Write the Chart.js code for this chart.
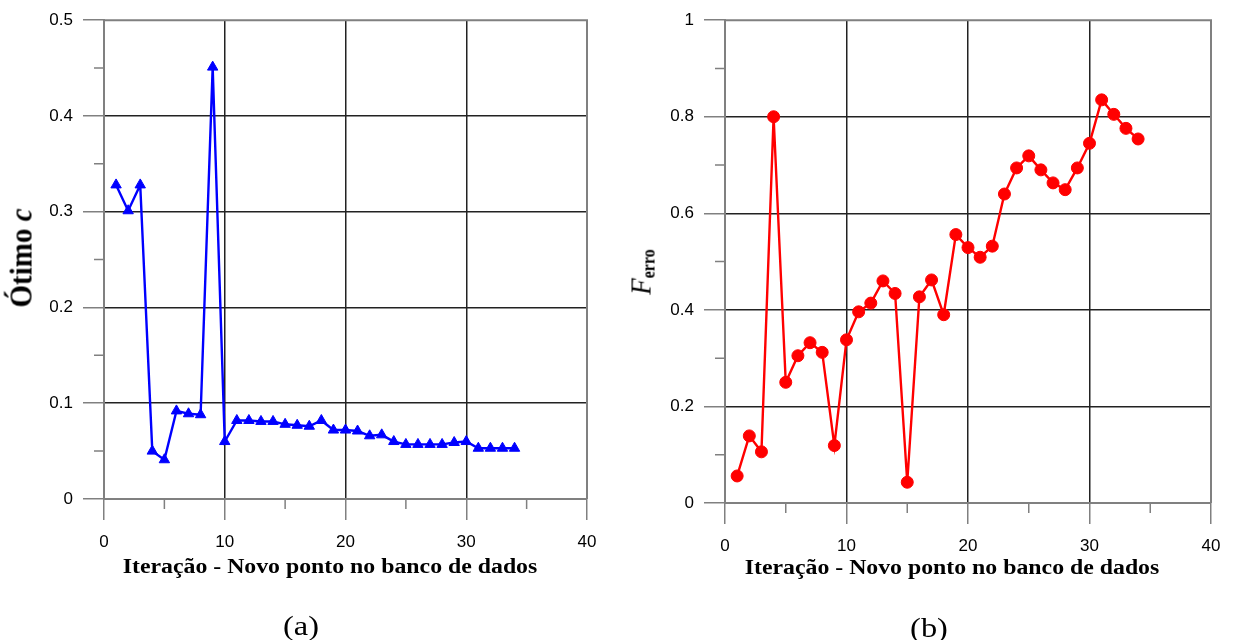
<!DOCTYPE html>
<html>
<head>
<meta charset="utf-8">
<script src="https://cdn.jsdelivr.net/npm/chart.js@4/dist/chart.umd.min.js"></script>
<style>
  html, body { margin: 0; padding: 0; background: #fff; }
  #page { position: relative; width: 1233px; height: 640px; overflow: hidden; background: #fff; }
  .panel { position: absolute; top: 0; height: 640px; }
  .txt { position: absolute; white-space: nowrap; line-height: 1; color: #000;
         font-family: "Liberation Serif", "Times New Roman", serif; }
  .xt { font-weight: bold; font-size: 20px; transform: translate(-50%, -50%) scaleX(1.19); }
  .yt { transform: translate(-50%, -50%) rotate(-90deg) scaleY(1.12); }
  .cap { font-size: 27px; transform: translate(-50%, -50%) scaleX(1.2); }
  sub { font-size: 16px; font-weight: bold; vertical-align: -4px; }
</style>
</head>
<body>
<div id="page">
  <div class="panel" style="left:0;width:610px;"><canvas id="chartA"></canvas></div>
  <div class="panel" style="left:610px;width:623px;"><canvas id="chartB"></canvas></div>

  <div class="txt yt" style="left:21px;top:258px;font-size:29px;font-weight:bold;">Ótimo <i>c</i></div>
  <div class="txt yt" style="left:642px;top:272px;font-size:27px;"><i>F</i><sub>erro</sub></div>

  <div class="txt xt" style="left:330px;top:566px;">Iteração - Novo ponto no banco de dados</div>
  <div class="txt xt" style="left:952px;top:567px;">Iteração - Novo ponto no banco de dados</div>

  <div class="txt cap" style="left:301px;top:626px;">(a)</div>
  <div class="txt cap" style="left:929px;top:628px;">(b)</div>
</div>

<script>
// Iteration number (new point added to the database)
const iterations = [1, 2, 3, 4, 5, 6, 7, 8, 9, 10, 11, 12, 13, 14, 15, 16, 17,
                    18, 19, 20, 21, 22, 23, 24, 25, 26, 27, 28, 29, 30, 31, 32, 33, 34];

// (a) optimal c per iteration
const otimoC = [0.328, 0.301, 0.328, 0.050, 0.041, 0.092, 0.089, 0.088, 0.451, 0.060,
                0.082, 0.082, 0.081, 0.081, 0.078, 0.077, 0.076, 0.082, 0.072, 0.072,
                0.071, 0.066, 0.067, 0.060, 0.057, 0.057, 0.057, 0.057, 0.059, 0.060,
                0.053, 0.053, 0.053, 0.053];

// (b) F_erro per iteration
const fErro = [0.056, 0.139, 0.106, 0.800, 0.250, 0.305, 0.332, 0.312, 0.119, 0.338,
               0.396, 0.414, 0.460, 0.434, 0.043, 0.427, 0.462, 0.390, 0.556, 0.529,
               0.509, 0.532, 0.640, 0.694, 0.719, 0.690, 0.663, 0.649, 0.694, 0.745,
               0.835, 0.805, 0.776, 0.754];

// Tick labels
const xTickLabels = ['0', '10', '20', '30', '40'];
const yTickLabelsA = ['0', '0.1', '0.2', '0.3', '0.4', '0.5'];
const yTickLabelsB = ['0', '0.2', '0.4', '0.6', '0.8', '1'];

Chart.defaults.font.family = '"Liberation Sans", Arial, sans-serif';
Chart.defaults.font.size = 17;
Chart.defaults.color = '#000';

const FRAME = '#808080';
const GRID = '#222';

// Closes the plot box (top and right edges) and adds short minor ticks
// halfway between the major ticks of both axes.
const framePlugin = {
  id: 'frameAndMinorTicks',
  beforeDatasetsDraw(chart) {
    const { ctx, chartArea: a, scales } = chart;
    const xs = scales.x, ys = scales.y;
    ctx.save();
    ctx.strokeStyle = FRAME;
    ctx.lineWidth = 1.5;
    ctx.beginPath();
    for (let i = 1; i < xs.ticks.length; i++) {
      const p = xs.getPixelForValue((xs.ticks[i - 1].value + xs.ticks[i].value) / 2);
      ctx.moveTo(p, a.bottom);
      ctx.lineTo(p, a.bottom + 10);
    }
    for (let i = 1; i < ys.ticks.length; i++) {
      const p = ys.getPixelForValue((ys.ticks[i - 1].value + ys.ticks[i].value) / 2);
      ctx.moveTo(a.left - 10, p);
      ctx.lineTo(a.left, p);
    }
    ctx.stroke();
    ctx.lineWidth = 2;
    ctx.beginPath();
    ctx.moveTo(a.left, a.top);
    ctx.lineTo(a.right, a.top);
    ctx.lineTo(a.right, a.bottom);
    ctx.stroke();
    ctx.restore();
  }
};

function makeChart(canvasId, values, color, pointStyle, pointRadius, yMax, yStep, yLabels, box) {
  return new Chart(document.getElementById(canvasId), {
    type: 'line',
    data: {
      labels: iterations,
      datasets: [{
        data: iterations.map((x, i) => ({ x: x, y: values[i] })),
        borderColor: color,
        backgroundColor: color,
        borderWidth: 2.4,
        pointStyle: pointStyle,
        pointRadius: pointRadius,
        pointHoverRadius: pointRadius,
        pointBorderWidth: 1,
        pointBackgroundColor: color,
        pointBorderColor: color,
        tension: 0
      }]
    },
    options: {
      responsive: true,
      maintainAspectRatio: false,
      animation: false,
      events: [],
      layout: { padding: { top: box.top, right: box.right, left: 0, bottom: 0 } },
      plugins: { legend: { display: false }, tooltip: { enabled: false } },
      scales: {
        x: {
          type: 'linear',
          min: 0, max: 40,
          afterFit(scale) { scale.height = box.xHeight; },
          ticks: {
            stepSize: 10,
            padding: 12,
            callback: (v) => xTickLabels[Math.round(v / 10)]
          },
          grid: {
            color: (c) => (c.tick && (c.tick.value === 0 || c.tick.value === 40)) ? 'rgba(0,0,0,0)' : GRID,
            lineWidth: 1.5,
            tickLength: 21,
            tickColor: FRAME,
            tickWidth: 1.5
          },
          border: { display: true, color: FRAME, width: 2 }
        },
        y: {
          type: 'linear',
          min: 0, max: yMax,
          afterFit(scale) { scale.width = box.yWidth; },
          ticks: {
            stepSize: yStep,
            padding: 10,
            callback: (v) => yLabels[Math.round(v / yStep)]
          },
          grid: {
            color: (c) => (c.tick && (c.tick.value === 0 || Math.abs(c.tick.value - yMax) < 1e-9)) ? 'rgba(0,0,0,0)' : GRID,
            lineWidth: 1.5,
            tickLength: 21,
            tickColor: FRAME,
            tickWidth: 1.5
          },
          border: { display: true, color: FRAME, width: 2 }
        }
      }
    },
    plugins: [framePlugin]
  });
}

makeChart('chartA', otimoC, '#0000ff', 'triangle', 6, 0.5, 0.1, yTickLabelsA,
          { top: 19, right: 23, xHeight: 141, yWidth: 104 });
makeChart('chartB', fErro, '#ff0000', 'circle', 6, 1, 0.2, yTickLabelsB,
          { top: 19, right: 22, xHeight: 137, yWidth: 115 });
</script>
</body>
</html>
